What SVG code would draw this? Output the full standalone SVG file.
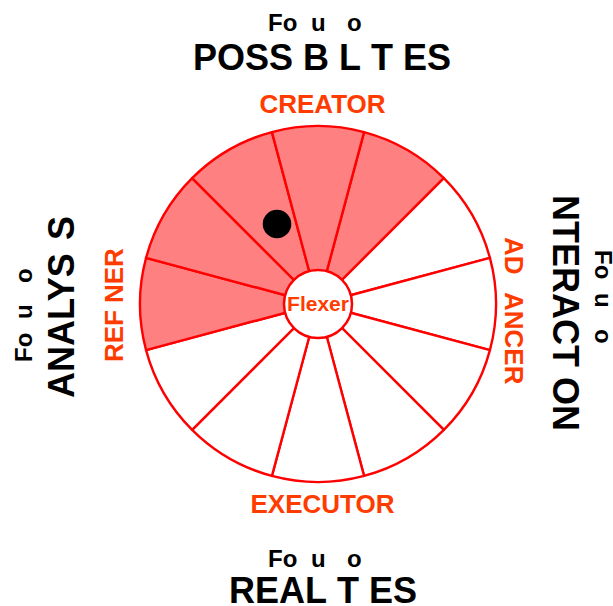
<svg xmlns="http://www.w3.org/2000/svg" width="613" height="606" viewBox="0 0 613 606">
<style>
.seg{stroke:#ff0000;stroke-width:2.4;stroke-linejoin:round}
.on{fill:#ff8080}
.off{fill:#ffffff}
.t{font-family:"Liberation Sans",Arial,sans-serif;font-weight:bold}
.blk{fill:#000000}
.org{fill:#ff3c00}
</style>
<rect width="613" height="606" fill="#ffffff"/>
<g id="wheel">
<g id="seg-1"><path class="seg on" d="M318 304 L364.07 132.07 A178 178 0 0 1 443.87 178.13 Z"/></g>
<g id="seg-2"><path class="seg off" d="M318 304 L443.87 178.13 A178 178 0 0 1 489.93 257.93 Z"/></g>
<g id="seg-3"><path class="seg off" d="M318 304 L489.93 257.93 A178 178 0 0 1 489.93 350.07 Z"/></g>
<g id="seg-4"><path class="seg off" d="M318 304 L489.93 350.07 A178 178 0 0 1 443.87 429.87 Z"/></g>
<g id="seg-5"><path class="seg off" d="M318 304 L443.87 429.87 A178 178 0 0 1 364.07 475.93 Z"/></g>
<g id="seg-6"><path class="seg off" d="M318 304 L364.07 475.93 A178 178 0 0 1 271.93 475.93 Z"/></g>
<g id="seg-7"><path class="seg off" d="M318 304 L271.93 475.93 A178 178 0 0 1 192.13 429.87 Z"/></g>
<g id="seg-8"><path class="seg off" d="M318 304 L192.13 429.87 A178 178 0 0 1 146.07 350.07 Z"/></g>
<g id="seg-9"><path class="seg on" d="M318 304 L146.07 350.07 A178 178 0 0 1 146.07 257.93 Z"/></g>
<g id="seg-10"><path class="seg on" d="M318 304 L146.07 257.93 A178 178 0 0 1 192.13 178.13 Z"/></g>
<g id="seg-11"><path class="seg on" d="M318 304 L192.13 178.13 A178 178 0 0 1 271.93 132.07 Z"/></g>
<g id="seg-12"><path class="seg on" d="M318 304 L271.93 132.07 A178 178 0 0 1 364.07 132.07 Z"/></g>
</g>
<g id="center">
<circle cx="318" cy="304" r="34" fill="#ffffff" stroke="#ff0000" stroke-width="2.5"/>
<text class="t org" x="318" y="311" font-size="21" text-anchor="middle">Flexer</text>
</g>
<g id="marker-dot"><circle cx="277" cy="224" r="14.3" fill="#000000"/></g>
<g id="connectors"></g>
<g id="label-creator"><text class="t org" x="322.5" y="112.5" font-size="26" text-anchor="middle">CREATOR</text></g>
<g id="label-executor"><text class="t org" x="322.5" y="512.5" font-size="26" text-anchor="middle">EXECUTOR</text></g>
<g id="label-refiner"><text class="t org" font-size="26" transform="translate(123 362) rotate(-90)"><tspan x="0">REF</tspan><tspan x="59">NER</tspan></text></g>
<g id="label-advancer"><text class="t org" font-size="26" transform="translate(505 237) rotate(90)"><tspan x="0">AD</tspan><tspan x="55">ANCER</tspan></text></g>
<g id="title-top">
<text class="t blk" y="30.5" font-size="24"><tspan x="268">Fo</tspan><tspan x="311">u</tspan><tspan x="347">o</tspan></text>
<text class="t blk" y="70" font-size="36"><tspan x="193">POSS</tspan><tspan x="303">B</tspan><tspan x="339">L</tspan><tspan x="371">T</tspan><tspan x="403">ES</tspan></text>
</g>
<g id="title-bottom">
<text class="t blk" y="567" font-size="24"><tspan x="268">Fo</tspan><tspan x="311">u</tspan><tspan x="347">o</tspan></text>
<text class="t blk" y="603" font-size="36"><tspan x="229">REAL</tspan><tspan x="337">T</tspan><tspan x="369">ES</tspan></text>
</g>
<g id="title-left">
<text class="t blk" font-size="24" transform="translate(32 362) rotate(-90)"><tspan x="0">Fo</tspan><tspan x="43">u</tspan><tspan x="79">o</tspan></text>
<text class="t blk" font-size="36" transform="translate(74 398) rotate(-90)"><tspan x="0">ANALYS</tspan><tspan x="158">S</tspan></text>
</g>
<g id="title-right">
<text class="t blk" font-size="24" transform="translate(595 250) rotate(90)"><tspan x="0">Fo</tspan><tspan x="43">u</tspan><tspan x="79">o</tspan></text>
<text class="t blk" font-size="36" transform="translate(553 185) rotate(90)"><tspan x="10">NTERACT</tspan><tspan x="192">ON</tspan></text>
</g>
</svg>
